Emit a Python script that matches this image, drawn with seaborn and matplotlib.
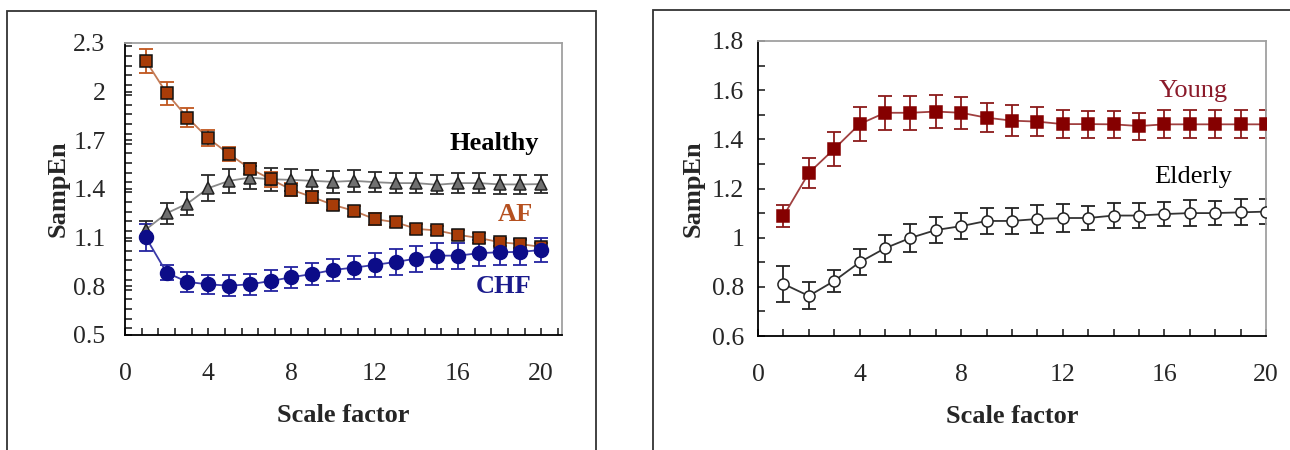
import matplotlib
matplotlib.use('agg')
import matplotlib.pyplot as plt
import seaborn as sns
from matplotlib.ticker import MultipleLocator
from matplotlib.patches import Rectangle

scale = list(range(1, 21))

# left panel: Healthy / AF / CHF
healthy = [1.15, 1.25, 1.31, 1.405, 1.45, 1.47, 1.46, 1.456, 1.45, 1.444,
           1.45, 1.442, 1.436, 1.436, 1.426, 1.436, 1.436, 1.428, 1.428, 1.43]
healthy_err = [0.05, 0.065, 0.07, 0.08, 0.075, 0.072, 0.07, 0.068, 0.066, 0.066,
               0.066, 0.062, 0.06, 0.06, 0.06, 0.06, 0.06, 0.058, 0.058, 0.058]
af = [2.19, 1.99, 1.84, 1.712, 1.615, 1.526, 1.46, 1.395, 1.35, 1.302,
      1.265, 1.214, 1.195, 1.154, 1.144, 1.117, 1.098, 1.072, 1.06, 1.043]
af_err = [0.075, 0.072, 0.06, 0.05, 0.045, 0.035, 0.045, 0.04, 0.035, 0.03,
          0.03, 0.035, 0.03, 0.03, 0.03, 0.03, 0.03, 0.025, 0.025, 0.025]
chf = [1.102, 0.884, 0.827, 0.812, 0.804, 0.812, 0.833, 0.856, 0.876, 0.901,
       0.915, 0.932, 0.95, 0.971, 0.989, 0.989, 1.004, 1.01, 1.012, 1.024]
chf_err = [0.085, 0.045, 0.06, 0.06, 0.065, 0.065, 0.065, 0.065, 0.068, 0.07,
           0.07, 0.075, 0.08, 0.08, 0.08, 0.08, 0.08, 0.08, 0.08, 0.075]

# right panel: Young / Elderly
young = [1.088, 1.263, 1.361, 1.462, 1.508, 1.508, 1.513, 1.508, 1.488, 1.476,
         1.472, 1.462, 1.462, 1.461, 1.454, 1.461, 1.461, 1.461, 1.461, 1.461]
young_err = [0.045, 0.06, 0.07, 0.07, 0.068, 0.068, 0.067, 0.064, 0.06, 0.062,
             0.06, 0.056, 0.055, 0.055, 0.055, 0.057, 0.057, 0.057, 0.057, 0.057]
elderly = [0.812, 0.763, 0.824, 0.9, 0.957, 0.999, 1.031, 1.047, 1.068, 1.068,
           1.076, 1.08, 1.08, 1.09, 1.09, 1.096, 1.1, 1.1, 1.103, 1.106]
elderly_err = [0.073, 0.055, 0.046, 0.053, 0.055, 0.058, 0.054, 0.054, 0.053, 0.052,
               0.055, 0.055, 0.05, 0.052, 0.05, 0.05, 0.054, 0.05, 0.053, 0.05]


def series(ax, y, err, line_c, err_c, marker, face, edge, ms):
	ax.errorbar(scale, y, yerr=err, fmt='none', ecolor=err_c, elinewidth=1.3,
				capsize=5, capthick=1.3, zorder=2)
	sns.lineplot(x=scale, y=y, ax=ax, color=line_c, lw=1.3, marker=marker,
				 markersize=ms, markerfacecolor=face, markeredgecolor=edge,
				 markeredgewidth=1.1, zorder=3)


def style_axis(ax, ypad):
	for s in ['top', 'right']:
		ax.spines[s].set_color('#a0a0a0')
	for s in ['left', 'bottom']:
		ax.spines[s].set_color('black')
	for s in ax.spines.values():
		s.set_linewidth(1.3)
	ax.tick_params(which='both', direction='in', length=5, width=1.2,
				   top=False, right=False, labelsize=18.5)
	ax.tick_params(axis='x', pad=20)
	ax.set_xlabel('Scale factor', fontsize=19, fontweight='bold', labelpad=14)
	ax.set_ylabel('SampEn', fontsize=19, fontweight='bold', labelpad=ypad)


sns.set_style("ticks")
plt.rcParams['font.family'] = ['Liberation Serif', 'DejaVu Serif']

fig = plt.figure(figsize=(12.9, 4.5), dpi=100)
ax1 = fig.add_axes([0.0969, 0.2556, 0.3388, 0.649])
ax2 = fig.add_axes([0.5876, 0.2533, 0.3938, 0.6556])

# panel frames
fig.patches.append(Rectangle((7 / 1290, -0.05), 589 / 1290, 1.05 - 11 / 450,
							 transform=fig.transFigure, fill=False,
							 edgecolor='#333333', lw=1.3))
fig.patches.append(Rectangle((653 / 1290, -0.05), 0.6, 1.05 - 10 / 450,
							 transform=fig.transFigure, fill=False,
							 edgecolor='#333333', lw=1.3))

series(ax1, healthy, healthy_err, '#8a8a8a', '#2a2a2a', '^', '#707070', '#222222', 8)
series(ax1, af, af_err, '#c37a55', '#c0561e', 's', '#a83c08', '#111111', 8)
series(ax1, chf, chf_err, '#3a3aa8', '#2323a0', 'o', '#0c0c88', '#0c0c88', 10)

ax1.set_xlim(0, 21)
ax1.set_ylim(0.5, 2.3)
ax1.set_xticks([0, 4, 8, 12, 16, 20])
ax1.set_yticks([0.5, 0.8, 1.1, 1.4, 1.7, 2.0, 2.3])
ax1.set_yticklabels(['0.5', '0.8', '1.1', '1.4', '1.7', '2', '2.3'])
ax1.xaxis.set_minor_locator(MultipleLocator(0.8))
ax1.yaxis.set_minor_locator(MultipleLocator(0.06))
style_axis(ax1, 3)
ax1.tick_params(axis='y', pad=14)

ax1.text(17.75, 1.683, 'Healthy', fontsize=19, fontweight='bold', color='black',
		 ha='center', va='center')
ax1.text(18.75, 1.24, 'AF', fontsize=19, fontweight='bold', color='#b5501f',
		 ha='center', va='center')
ax1.text(18.2, 0.796, 'CHF', fontsize=19, fontweight='bold', color='#1a1a8c',
		 ha='center', va='center')

series(ax2, young, young_err, '#a04040', '#8b1a1a', 's', '#850000', '#850000', 8)
series(ax2, elderly, elderly_err, '#333333', '#222222', 'o', 'white', '#222222', 8)

ax2.set_xlim(0, 20)
ax2.set_ylim(0.6, 1.8)
ax2.set_xticks([0, 4, 8, 12, 16, 20])
ax2.set_yticks([0.6, 0.8, 1.0, 1.2, 1.4, 1.6, 1.8])
ax2.set_yticklabels(['0.6', '0.8', '1', '1.2', '1.4', '1.6', '1.8'])
ax2.xaxis.set_minor_locator(MultipleLocator(1))
ax2.yaxis.set_minor_locator(MultipleLocator(0.1))
style_axis(ax2, 5)
ax2.tick_params(axis='y', pad=10)

ax2.text(17.13, 1.597, 'Young', fontsize=19, color='#8b1a2a',
		 ha='center', va='center')
ax2.text(17.13, 1.247, 'Elderly', fontsize=19, color='black',
		 ha='center', va='center')

fig.savefig('out.png', dpi=100)
